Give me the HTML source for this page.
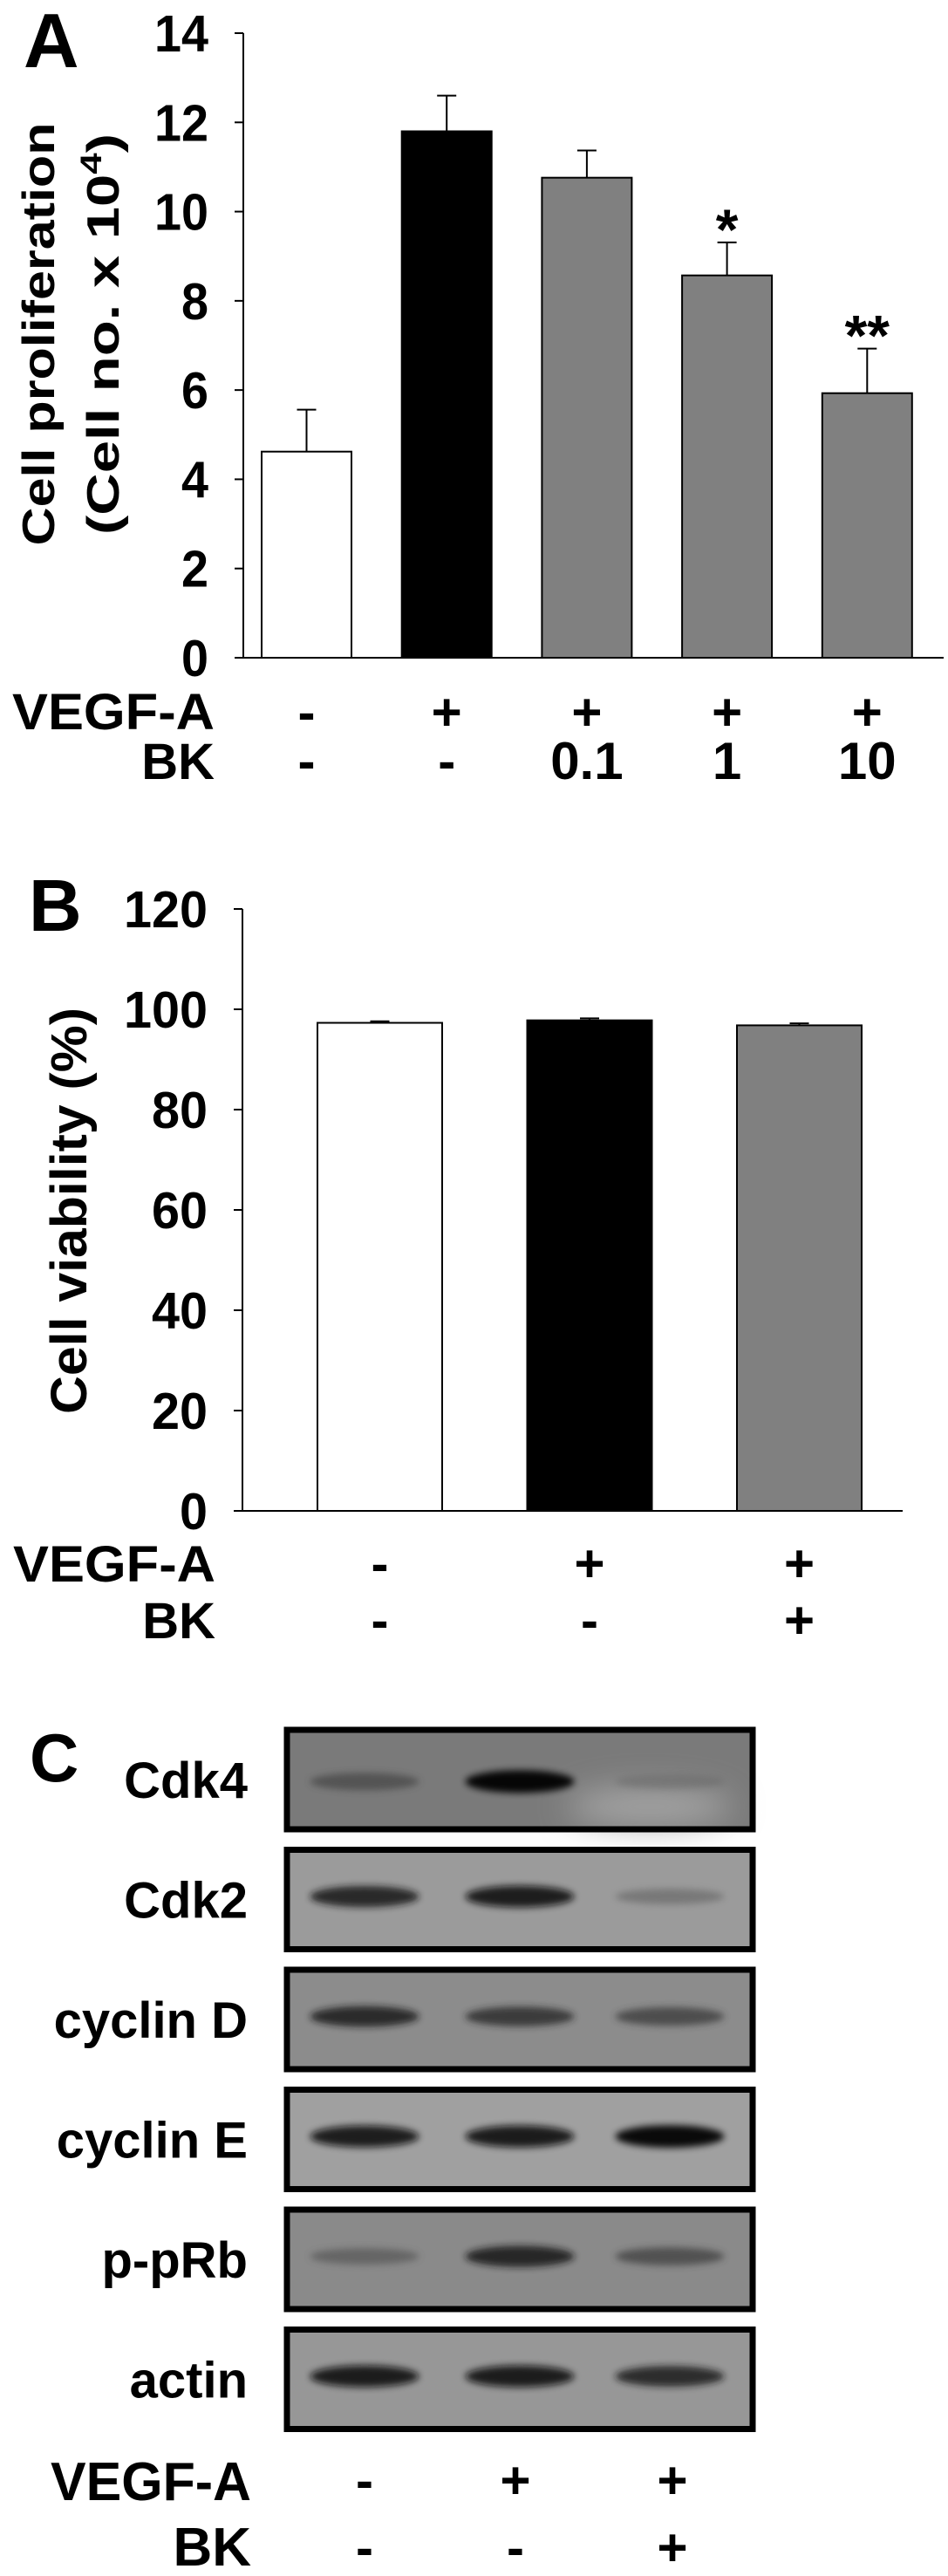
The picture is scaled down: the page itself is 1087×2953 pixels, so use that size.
<!DOCTYPE html>
<html><head><meta charset="utf-8"><style>
html,body{margin:0;padding:0;background:#fff;}
svg{display:block;}
text{font-family:"Liberation Sans",Arial,sans-serif;font-weight:bold;fill:#000;}
</style></head><body>
<svg id="fig" width="1087" height="2953" viewBox="0 0 1087 2953" xmlns="http://www.w3.org/2000/svg">
<defs>
<filter id="blur" x="-30%" y="-200%" width="160%" height="500%"><feGaussianBlur stdDeviation="4"/></filter>
<filter id="bgblur" x="-50%" y="-100%" width="200%" height="300%"><feGaussianBlur stdDeviation="18"/></filter>
</defs>
<g id="panelA"></g>
<g id="panelB"></g>
<g id="panelC"></g>
</svg>
<script>
// ---- Panel A data ----
const aCategories = ["ctrl","VEGF-A","VEGF-A+BK0.1","VEGF-A+BK1","VEGF-A+BK10"];
const aValues = [4.62, 11.8, 10.76, 8.57, 5.93];
const aErrors = [0.94, 0.8, 0.61, 0.74, 1.0];
const aColors = ["#ffffff","#000000","#808080","#808080","#808080"];
const aStars = ["", "", "", "*", "**"];
const aTicks = [0,2,4,6,8,10,12,14];
const aVegf = ["-","+","+","+","+"];
const aBk = ["-","-","0.1","1","10"];
// ---- Panel B data ----
const bCategories = ["ctrl","VEGF-A","VEGF-A+BK"];
const bValues = [97.3, 97.8, 96.8];
const bErrors = [0.3, 0.4, 0.4];
const bColors = ["#ffffff","#000000","#808080"];
const bTicks = [0,20,40,60,80,100,120];
const bVegf = ["-","+","+"];
const bBk = ["-","-","+"];
// ---- Panel C data ----
const cProteins = ["Cdk4","Cdk2","cyclin D","cyclin E","p-pRb","actin"];
const cBackground = ["#7a7a7a","#9b9b9b","#8c8c8c","#a0a0a0","#8a8a8a","#979797"];
const cBandIntensity = [
  [0.5, 1.0, 0.2],
  [0.85, 0.9, 0.3],
  [0.8, 0.7, 0.6],
  [0.9, 0.92, 0.98],
  [0.4, 0.85, 0.55],
  [0.9, 0.9, 0.8]
];
const cVegf = ["-","+","+"];
const cBk = ["-","-","+"];

const NS = "http://www.w3.org/2000/svg";
function mk(parent, tag, attrs, txt){
  const e = document.createElementNS(NS, tag);
  for (const k in attrs) e.setAttribute(k, attrs[k]);
  if (txt !== undefined) e.textContent = txt;
  parent.appendChild(e);
  return e;
}

// ================= Panel A =================
(function(){
  const g = document.getElementById('panelA');
  const x0 = 279, xEnd = 1082, y0 = 754, yTop = 38, max = 14;
  const yA = v => y0 - (v / max) * (y0 - yTop);
  const barX = i => 300 + i * 160.7;
  const barW = 103;
  const lbl = mk(g,'text',{x:27,y:77,'font-size':88});
  lbl.textContent = 'A';
  
  
  const ax = mk(g,'path',{d:`M${x0} ${yTop} V${y0} H${xEnd}`,stroke:'#000','stroke-width':2,fill:'none'});
  
  
  aTicks.forEach(t=>{
    const y = yA(t);
    const tk = mk(g,'line',{x1:x0-10,x2:x0,y1:y,y2:y,stroke:'#000','stroke-width':2});
    
    
    const tl = mk(g,'text',{x:239,y:y+21,'font-size':59,'text-anchor':'end',textLength:String(t).length*31,lengthAdjust:'spacingAndGlyphs'});
    tl.textContent = t;
    
    
  });
  const t1 = mk(g,'text',{transform:'translate(62,383) rotate(-90)','font-size':52,'text-anchor':'middle',textLength:485,lengthAdjust:'spacingAndGlyphs'});
  t1.textContent = 'Cell proliferation';
  
  
  const t2 = mk(g,'text',{transform:'translate(136,383) rotate(-90)','font-size':52,'text-anchor':'middle',textLength:460,lengthAdjust:'spacingAndGlyphs'});
  mk(t2,'tspan',{},'(Cell no. x 10');
  mk(t2,'tspan',{'font-size':34,dy:-20},'4');
  mk(t2,'tspan',{dy:20},')');
  
  
  aValues.forEach((v,i)=>{
    const x = barX(i), cx = x + barW/2;
    const et = yA(v + aErrors[i]);
    const el = mk(g,'path',{d:`M${cx} ${yA(v)} V${et} M${cx-11} ${et} H${cx+11}`,stroke:'#000','stroke-width':2,fill:'none'});
    
    
    const r = mk(g,'rect',{x:x,y:yA(v),width:barW,height:y0-yA(v),fill:aColors[i],stroke:'#000','stroke-width':2});
    
    
    if (aStars[i]) {
      const s = mk(g,'text',{x:cx,y:et+8,'font-size':66,'text-anchor':'middle'});
      s.textContent = aStars[i];
      
      
    }
    const vt = mk(g,'text',{x:cx,y:837,'font-size':60,'text-anchor':'middle'});
    vt.textContent = aVegf[i];
    
    
    const bt = mk(g,'text',{x:cx,y:893,'font-size':60,'text-anchor':'middle'});
    bt.textContent = aBk[i];
    
    
  });
  const rl1 = mk(g,'text',{x:246,y:836,'font-size':58,'text-anchor':'end',textLength:232,lengthAdjust:'spacingAndGlyphs'});
  rl1.textContent = 'VEGF-A';
  
  
  const rl2 = mk(g,'text',{x:246,y:893,'font-size':58,'text-anchor':'end'});
  rl2.textContent = 'BK';
  
  
})();

// ================= Panel B =================
(function(){
  const g = document.getElementById('panelB');
  const x0 = 278, xEnd = 1035, y0 = 1732, yTop = 1042, max = 120;
  const yB = v => y0 - (v / max) * (y0 - yTop);
  const barX = i => 364 + i * 240.5;
  const barW = 143;
  const lbl = mk(g,'text',{x:33,y:1067,'font-size':84});
  lbl.textContent = 'B';
  
  
  const ax = mk(g,'path',{d:`M${x0} ${yTop} V${y0} H${xEnd}`,stroke:'#000','stroke-width':2,fill:'none'});
  
  
  bTicks.forEach(t=>{
    const y = yB(t);
    const tk = mk(g,'line',{x1:x0-10,x2:x0,y1:y,y2:y,stroke:'#000','stroke-width':2});
    
    
    const tl = mk(g,'text',{x:238,y:y+21,'font-size':59,'text-anchor':'end',textLength:String(t).length*32,lengthAdjust:'spacingAndGlyphs'});
    tl.textContent = t;
    
    
  });
  const t1 = mk(g,'text',{transform:'translate(99,1388) rotate(-90)','font-size':58,'text-anchor':'middle',textLength:466,lengthAdjust:'spacingAndGlyphs'});
  t1.textContent = 'Cell viability (%)';
  
  
  bValues.forEach((v,i)=>{
    const x = barX(i), cx = x + barW/2;
    const et = yB(v + bErrors[i]);
    const el = mk(g,'path',{d:`M${cx} ${yB(v)} V${et} M${cx-11} ${et} H${cx+11}`,stroke:'#000','stroke-width':2,fill:'none'});
    
    
    const r = mk(g,'rect',{x:x,y:yB(v),width:barW,height:y0-yB(v),fill:bColors[i],stroke:'#000','stroke-width':2});
    
    
    const vt = mk(g,'text',{x:cx,y:1813,'font-size':60,'text-anchor':'middle'});
    vt.textContent = bVegf[i];
    
    
    const bt = mk(g,'text',{x:cx,y:1878,'font-size':60,'text-anchor':'middle'});
    bt.textContent = bBk[i];
    
    
  });
  const rl1 = mk(g,'text',{x:247,y:1813,'font-size':58,'text-anchor':'end',textLength:232,lengthAdjust:'spacingAndGlyphs'});
  rl1.textContent = 'VEGF-A';
  
  
  const rl2 = mk(g,'text',{x:247,y:1878,'font-size':58,'text-anchor':'end'});
  rl2.textContent = 'BK';
  
  
})();

// ================= Panel C =================
(function(){
  const g = document.getElementById('panelC');
  const bx = 329, bw = 534, bh = 114, top0 = 1983, pitch = 137.5;
  const laneCx = [418, 596, 768];
  const laneW = 125;
  const lbl = mk(g,'text',{x:34,y:2042,'font-size':78});
  lbl.textContent = 'C';
  
  
  cProteins.forEach((p,r)=>{
    const y = top0 + r*pitch;
    const row = mk(g,'g',{});
    
    
    mk(row,'rect',{x:bx,y:y,width:bw,height:bh,fill:cBackground[r]});
    if (r===0) {
      mk(row,'ellipse',{cx:745,cy:y+88,rx:95,ry:22,fill:'#a4a4a4',filter:'url(#bgblur)'});
    }
    const bandY = y + bh*(r===0 ? 0.52 : 0.47);
    cBandIntensity[r].forEach((v,l)=>{
      const shade = Math.round(120*(1-v));
      const b = mk(row,'ellipse',{cx:laneCx[l],cy:bandY,rx:laneW/2,ry:7+6*v,fill:`rgb(${shade},${shade},${shade})`,opacity:0.3+0.65*v,filter:'url(#blur)'});
      
      
    });
    mk(row,'rect',{x:bx,y:y,width:bw,height:bh,fill:'none',stroke:'#000','stroke-width':7});
    const t = mk(g,'text',{x:284,y:y+bh/2+21,'font-size':58,'text-anchor':'end'});
    t.textContent = p;
    
    
  });
  const signX = [418, 591, 771];
  cVegf.forEach((s,i)=>{
    const t = mk(g,'text',{x:signX[i],y:2864,'font-size':60,'text-anchor':'middle'});
    t.textContent = s;
    
    
    const t2 = mk(g,'text',{x:signX[i],y:2941,'font-size':60,'text-anchor':'middle'});
    t2.textContent = cBk[i];
    
    
  });
  const rl1 = mk(g,'text',{x:288,y:2866,'font-size':62,'text-anchor':'end',textLength:230,lengthAdjust:'spacingAndGlyphs'});
  rl1.textContent = 'VEGF-A';
  
  
  const rl2 = mk(g,'text',{x:288,y:2941,'font-size':62,'text-anchor':'end'});
  rl2.textContent = 'BK';
  
  
})();
</script>
</body></html>
